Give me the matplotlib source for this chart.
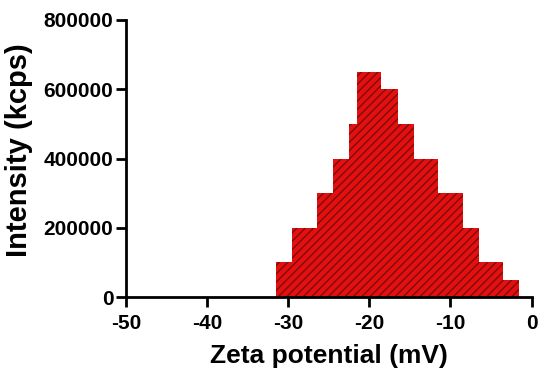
import numpy as np
import matplotlib
matplotlib.use('Agg')
import matplotlib.pyplot as plt

# bin centres (mV) and counts
zeta_centres = [-31, -30, -29, -28, -27, -26, -25, -24, -23, -22,
                -21, -20, -19, -18, -17, -16, -15, -14, -13, -12,
                -11, -10, -9, -8, -7, -6, -5, -4, -3, -2]
intensity = [100000, 100000, 200000, 200000, 200000, 300000, 300000, 400000, 400000, 500000,
             650000, 650000, 650000, 600000, 600000, 500000, 500000, 400000, 400000, 400000,
             300000, 300000, 300000, 200000, 200000, 100000, 100000, 100000, 50000, 50000]

x_ticks = [-50, -40, -30, -20, -10, 0]
y_ticks = [0, 200000, 400000, 600000, 800000]

plt.rcParams['font.family'] = ['Liberation Sans', 'DejaVu Sans']
plt.rcParams['font.weight'] = 'bold'
plt.rcParams['hatch.linewidth'] = 1.0

fig = plt.figure(figsize=(5.38, 3.70), dpi=100)
ax = fig.add_axes([0.234, 0.197, 0.754, 0.749])

ax.bar(zeta_centres, intensity, width=1.0, color='#e41010', edgecolor='#7a0c0c',
       linewidth=0, hatch='////', zorder=2)

ax.set_xlim(-50, 0)
ax.set_ylim(0, 800000)
ax.set_xticks(x_ticks)
ax.set_yticks(y_ticks)
ax.set_xticklabels([str(v) for v in x_ticks])
ax.set_yticklabels([str(v) for v in y_ticks])

for side in ['top', 'right']:
    ax.spines[side].set_visible(False)
for side in ['left', 'bottom']:
    ax.spines[side].set_linewidth(2)
ax.tick_params(width=2, length=7, labelsize=15)
ax.tick_params(axis='x', pad=5)
ax.tick_params(axis='y', pad=2)

ax.set_xlabel('Zeta potential (mV)', fontsize=19, fontweight='bold', labelpad=8)
ax.set_ylabel('Intensity (kcps)', fontsize=21, fontweight='bold')
ax.yaxis.set_label_coords(-0.23, 0.53)

fig.savefig('out.png', dpi=100)
